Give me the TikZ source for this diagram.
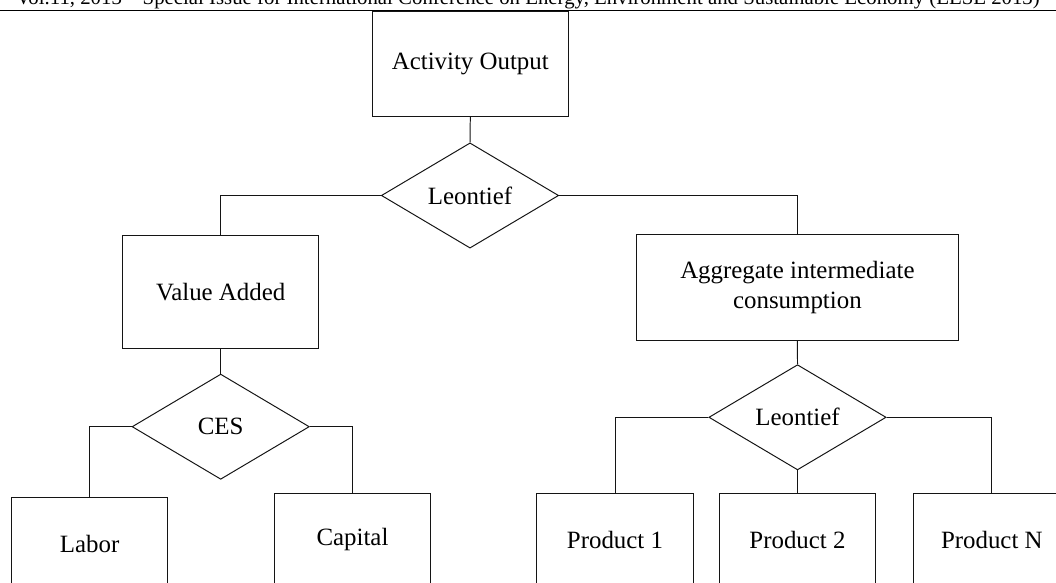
\documentclass[tikz,border=0pt]{standalone}
\usepackage{fontspec}
\setmainfont{Liberation Serif}
\usepackage{tikz}
\usetikzlibrary{shapes.geometric,positioning}
\definecolor{lineColor}{RGB}{20, 20, 20}
\definecolor{textColor}{RGB}{0, 0, 0}
\tikzset{
    levelbox/.style={draw=lineColor, line width=0.7pt, rectangle, inner sep=2pt,
        align=center, text=textColor, font=\fontsize{17.7}{21.3}\selectfont},
    leafbox/.style={levelbox, minimum width=3.9cm, minimum height=2.35cm},
    nestfn/.style={draw=lineColor, line width=0.7pt, diamond, inner sep=0pt, aspect=1.69,
        minimum width=4.43cm, minimum height=2.63cm, text=textColor,
        font=\fontsize{17.7}{21.3}\selectfont},
    link/.style={draw=lineColor, line width=0.7pt}
}

\begin{document}
\begin{tikzpicture}[x=0.025cm, y=-0.025cm]
            \useasboundingbox (0,0) rectangle (1056,583);
            \clip (0,0) rectangle (1056,583);

            % Page header (cut by the page edge)
            \node[anchor=base east, inner sep=0pt, font=\fontsize{14.8}{16}\selectfont] (header) at (1040,5)
                {Vol.11, 2013 – Special Issue for International Conference on Energy, Environment and Sustainable Economy (EESE 2013)};
            \draw[line width=0.9pt] (0,10.5) -- (1056,10.5);

            % Top level
            \node[levelbox, minimum width=4.89cm, minimum height=2.64cm] (output) at (470.3,63.9) {Activity Output};
            \node[nestfn] (topLeontief) at (470,195.5) {Leontief};

            % Second level
            \node[levelbox, minimum width=4.9cm, minimum height=2.81cm] (valueAdded) at (220.7,292.2) {Value Added};
            \node[levelbox, minimum width=8.06cm, minimum height=2.64cm] (intermediate) at (797.4,287.5)
                {Aggregate intermediate\\consumption};

            % Nesting functions
            \node[nestfn] (ces) at (220.7,426.7) {CES};
            \node[nestfn] (lowLeontief) at (797.5,417.3) {Leontief};

            % Bottom level
            \node[leafbox, minimum height=2.34cm] (labor) at (89.7,544) {Labor};
            \node[leafbox, minimum height=2.34cm] (capital) at (352.5,540) {Capital};
            \node[leafbox] (product1) at (615,540) {Product 1};
            \node[leafbox] (product2) at (797.5,540) {Product 2};
            \node[leafbox] (productN) at (991.8,540) {Product N};

            % Connectors
            \draw[link] (output.south) -- (topLeontief.north);
            \draw[link] (topLeontief.west) -| (valueAdded.north);
            \draw[link] (topLeontief.east) -| (intermediate.north);
            \draw[link] (valueAdded.south) -- (ces.north);
            \draw[link] (intermediate.south) -- (lowLeontief.north);
            \draw[link] (ces.west) -| (labor.north);
            \draw[link] (ces.east) -| (capital.north);
            \draw[link] (lowLeontief.west) -| (product1.north);
            \draw[link] (lowLeontief.south) -- (product2.north);
            \draw[link] (lowLeontief.east) -| (productN.north);
        \end{tikzpicture}
\end{document}
